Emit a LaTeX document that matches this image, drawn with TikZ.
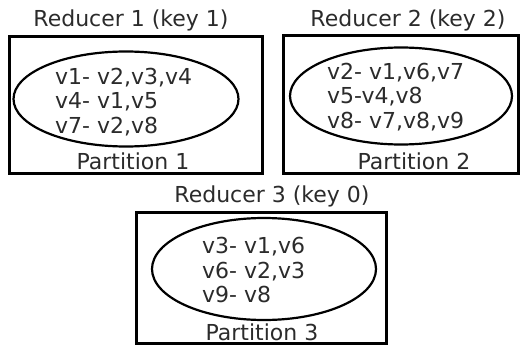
\documentclass[tikz,border=0pt]{standalone}
\usepackage{fontspec}
\setmainfont{DejaVu Sans}
\usetikzlibrary{shapes.geometric}
\definecolor{txt}{HTML}{2B2B2B}
\tikzset{
  box/.style={draw=black, line width=3pt, inner sep=0pt},
  oval/.style={draw=black, line width=2.2pt, ellipse, inner sep=0pt},
  lbl/.style={text=txt, inner sep=0pt, font=\fontsize{22}{24.5}\selectfont},
  body/.style={lbl, align=left, anchor=west},
}
\begin{document}
\begin{tikzpicture}[x=1pt,y=-1pt]
\useasboundingbox (0,0) rectangle (522,345);
% boxes
\node[box, minimum width=253pt, minimum height=136pt] (b1) at (135.5,105) {};
\node[box, minimum width=235pt, minimum height=137pt] (b2) at (400.5,104.5) {};
\node[box, minimum width=250pt, minimum height=131pt] (b3) at (261,277.5) {};
% ellipses
\node[oval, minimum width=225pt, minimum height=95pt] (e1) at (126,99) {};
\node[oval, minimum width=222pt, minimum height=97pt] (e2) at (401,96) {};
\node[oval, minimum width=224pt, minimum height=102pt] (e3) at (264,269) {};
% titles
\node[lbl] (t1) at (131,20) {Reducer 1 (key 1)};
\node[lbl] (t2) at (408,20) {Reducer 2 (key 2)};
\node[lbl] (t3) at (272,196) {Reducer 3 (key 0)};
% contents
\node[body] (c1) at (55,102) {v1- v2,v3,v4\\v4- v1,v5\\v7- v2,v8};
\node[body] (c2) at (327,97) {v2- v1,v6,v7\\v5-v4,v8\\v8- v7,v8,v9};
\node[body] (c3) at (202,270) {v3- v1,v6\\v6- v2,v3\\v9- v8};
% partitions
\node[lbl] (p1) at (133,161) {Partition 1};
\node[lbl] (p2) at (414,161) {Partition 2};
\node[lbl] (p3) at (262,332) {Partition 3};
\end{tikzpicture}
\end{document}
